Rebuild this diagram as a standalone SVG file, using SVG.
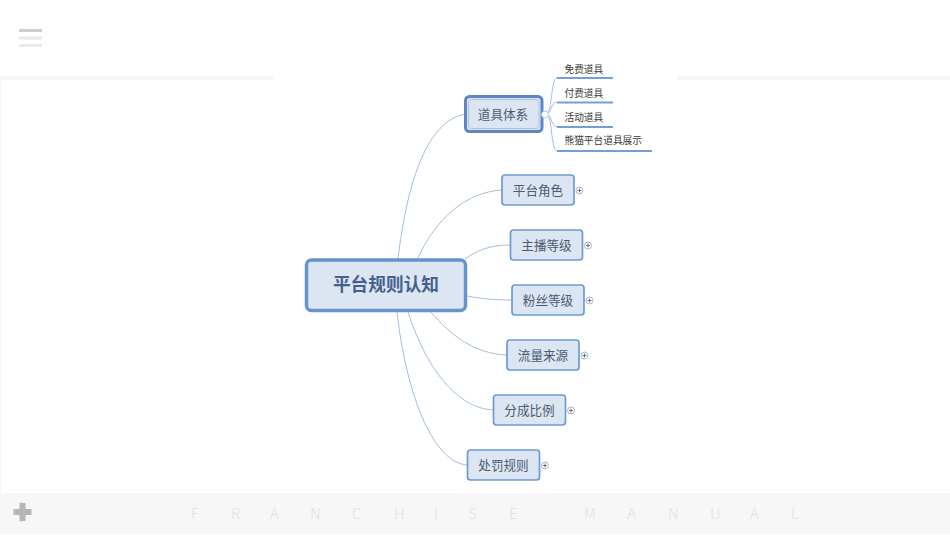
<svg xmlns="http://www.w3.org/2000/svg" width="950" height="535" viewBox="0 0 950 535">
<style>
text{font-family:"Noto Sans CJK SC","Liberation Sans",sans-serif}
.n{fill:#dce6f3;stroke:#6d9ad2;stroke-width:1.700}
.t{font-size:12.600px;fill:#4a5a70;text-anchor:middle}
.s{font-size:9.700px;fill:#3a3a3a;}
.c{fill:none;stroke:#a3bedd;stroke-width:1}
.u{fill:none;stroke:#739fd6;stroke-width:1.800}
.p{fill:#fff;stroke:#8ba3bf;stroke-width:.8}
.m{stroke:#44546a;stroke-width:.8}
</style>
<rect x="0" y="0" width="950" height="535" fill="#fff"/>
<g id="chrome">
<rect x="0" y="76" width="273" height="4" fill="#f6f6f6"/>
<rect x="677" y="76" width="273" height="4" fill="#f6f6f6"/>
<rect x="0" y="80" width="1" height="413" fill="#f5f5f5"/>
<rect x="0" y="493" width="950" height="41" fill="#f7f7f7"/>
<rect x="19" y="29" width="23" height="3" fill="#cfcfcf"/>
<rect x="19" y="36.500" width="23" height="3" fill="#e9e9e9"/>
<rect x="19" y="44" width="23" height="3" fill="#e9e9e9"/>
<path d="M19.500 503h6v6h6v6h-6v6h-6v-6h-6v-6h6z" fill="#b5b5b5"/>
<g font-size="15" fill="#e0e0e0" style="font-family:'Liberation Sans',sans-serif;font-weight:300">
<text x="191" y="519">F</text><text x="231" y="519">R</text><text x="270" y="519">A</text><text x="310" y="519">N</text><text x="352" y="519">C</text><text x="394" y="519">H</text><text x="434" y="519">I</text><text x="468" y="519">S</text><text x="509" y="519">E</text><text x="584" y="519">M</text><text x="627" y="519">A</text><text x="668" y="519">N</text><text x="710" y="519">U</text><text x="750" y="519">A</text><text x="791" y="519">L</text>
</g>
</g>
<g id="connectors">
<path class="c" d="M398 259C406 190 425 120 466 114"/>
<path class="c" d="M418 258C435 220 465 192 502 190"/>
<path class="c" d="M465 259C478 250 490 245 510 245"/>
<path class="c" d="M467 296C482 299 495 300 512 300"/>
<path class="c" d="M431 312C450 335 475 354 507 355"/>
<path class="c" d="M408 312C425 365 455 408 493 410"/>
<path class="c" d="M397 312C405 385 430 462 467 465"/>
<path class="c" d="M547 114C552 112 551 78 557 78"/>
<path class="c" d="M547 114C552 112 551 102 557 102"/>
<path class="c" d="M547 114C552 116 551 126 557 127"/>
<path class="c" d="M547 114C552 116 551 150 557 151"/>
<path class="u" d="M557 78H613M557 102.500H613M557 127H613M557 151H652"/>
</g>
<g id="root"><rect x="306.500" y="260" width="159" height="50.500" rx="5" fill="#dce6f3" stroke="#6593d0" stroke-width="3.500"/><text x="386" y="291" text-anchor="middle" font-size="17.700" font-weight="700" fill="#44618c">平台规则认知</text></g>
<g id="n1"><rect x="465.500" y="96.500" width="76.500" height="35" rx="4" fill="#dce6f3" stroke="#5f86c2" stroke-width="3"/><rect x="468.500" y="99.500" width="70.500" height="29" rx="3" fill="none" stroke="#a9c4e6" stroke-width="1"/><text class="t" x="503" y="119">道具体系</text><circle cx="545" cy="114.500" r="3.500" fill="#fff" stroke="#a3bedd" stroke-width=".8"/></g>
<g id="s1"><text class="s" x="564.500" y="73">免费道具</text></g>
<g id="s2"><text class="s" x="564.500" y="96.500">付费道具</text></g>
<g id="s3"><text class="s" x="564.500" y="121">活动道具</text></g>
<g id="s4"><text class="s" x="564.500" y="144">熊猫平台道具展示</text></g>
<g id="n2"><rect class="n" x="502" y="175" width="72" height="30" rx="3"/><text class="t" x="538" y="194.500">平台角色</text><circle class="p" cx="579.500" cy="190.500" r="3.500"/><path class="m" d="M577.500 190.500h4M579.500 188.500v4"/></g>
<g id="n3"><rect class="n" x="510.500" y="230" width="72" height="30" rx="3"/><text class="t" x="546.500" y="249.500">主播等级</text><circle class="p" cx="588" cy="245.500" r="3.500"/><path class="m" d="M586 245.500h4M588 243.500v4"/></g>
<g id="n4"><rect class="n" x="512" y="285" width="72" height="30" rx="3"/><text class="t" x="548" y="304.500">粉丝等级</text><circle class="p" cx="589.500" cy="300.500" r="3.500"/><path class="m" d="M587.500 300.500h4M589.500 298.500v4"/></g>
<g id="n5"><rect class="n" x="507" y="340" width="72" height="30" rx="3"/><text class="t" x="543" y="359.500">流量来源</text><circle class="p" cx="584.500" cy="355.500" r="3.500"/><path class="m" d="M582.500 355.500h4M584.500 353.500v4"/></g>
<g id="n6"><rect class="n" x="493.500" y="395" width="72" height="30" rx="3"/><text class="t" x="529.500" y="414.500">分成比例</text><circle class="p" cx="571" cy="410.500" r="3.500"/><path class="m" d="M569 410.500h4M571 408.500v4"/></g>
<g id="n7"><rect class="n" x="467.500" y="450" width="72" height="30" rx="3"/><text class="t" x="503.500" y="469.500">处罚规则</text><circle class="p" cx="545" cy="465.500" r="3.500"/><path class="m" d="M543 465.500h4M545 463.500v4"/></g>
</svg>
